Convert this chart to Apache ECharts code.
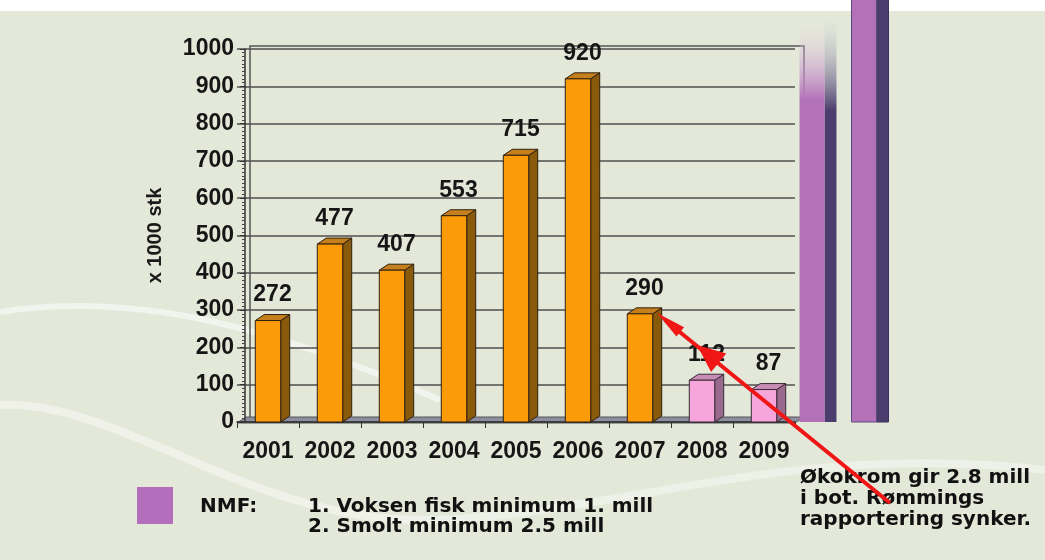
<!DOCTYPE html>
<html>
<head>
<meta charset="utf-8">
<script src="https://cdn.jsdelivr.net/npm/echarts@6/dist/echarts.min.js"></script>
<style>
  html, body { margin: 0; padding: 0; background: #e3e8d8; }
  #chart { width: 1045px; height: 560px; }
</style>
</head>
<body>
<div id="chart"></div>
<script>
// rapporterte rømte fisk, x 1000 stk
var years = ['2001', '2002', '2003', '2004', '2005', '2006', '2007', '2008', '2009'];
var escaped = [272, 477, 407, 553, 715, 920, 290, 112, 87];
var afterOkokrom = ['2008', '2009'];   // rosa søyler

// NMF minimum (x 1000 stk)
var nmfNames = ['Voksen fisk', 'Smolt'];
var nmfMinimum = [1000, 2500];

var yMin = 0, yMax = 1000, yStep = 100;

var nmfLegend = ['1. Voksen fisk minimum 1. mill', '2. Smolt minimum 2.5 mill'];
var noteLines = ['Økokrom gir 2.8 mill', 'i bot. Rømmings', 'rapportering synker.'];

var orangeFaces = { front: '#fb9b08', side: '#8a5a0c', top: '#c57f1c', stroke: '#2e2010' };
var pinkFaces = { front: '#f7a6dc', side: '#9a6a8e', top: '#c98cb6', stroke: '#3a2a35' };
var narrow = '"Liberation Sans Narrow", "Arial Narrow", "Liberation Sans", Arial, sans-serif';
var labelFont = 'bold 23px ' + narrow;
var noteFont = 'bold 20px "DejaVu Sans", Verdana, sans-serif';
var DX = 9, DY = 6;

function yearBox(params, api) {
    var i = api.value(0), v = api.value(1);
    var top = api.coord([i, v]);
    var base = api.coord([i, 0]);
    var w = api.size([1, 0])[0] * 0.41;
    var x0 = top[0] - w / 2, x1 = top[0] + w / 2;
    var c = afterOkokrom.indexOf(years[i]) >= 0 ? pinkFaces : orangeFaces;
    return {
        type: 'group',
        children: [
            { type: 'polygon', shape: { points: [[x1, top[1]], [x1 + DX, top[1] - DY], [x1 + DX, base[1] - DY], [x1, base[1]]] },
              style: { fill: c.side, stroke: c.stroke, lineWidth: 1 } },
            { type: 'polygon', shape: { points: [[x0, top[1]], [x0 + DX, top[1] - DY], [x1 + DX, top[1] - DY], [x1, top[1]]] },
              style: { fill: c.top, stroke: c.stroke, lineWidth: 1 } },
            { type: 'rect', shape: { x: x0, y: top[1], width: w, height: base[1] - top[1] },
              style: { fill: c.front, stroke: c.stroke, lineWidth: 1 } },
            { type: 'text', style: { text: String(v), x: top[0] + DX / 2, y: top[1] - DY - 8,
              align: 'center', verticalAlign: 'bottom', font: labelFont, fill: '#161616' } }
        ]
    };
}

function nmfBox(params, api) {
    var i = api.value(0), v = api.value(1);
    var top = api.coord([i, v]);
    var base = api.coord([i, 0]);
    var w = api.size([1, 0])[0] * 0.48;
    var sw = 12;
    var x0 = top[0] - w / 2, x1 = top[0] + w / 2;
    var front = '#b371b8', side = '#4b3d6d';
    if (i === 0) {
        // øverste del tones ut
        front = new echarts.graphic.LinearGradient(0, 0, 0, 1, [
            { offset: 0, color: 'rgba(230,210,230,0.1)' },
            { offset: 0.18, color: '#b371b8' },
            { offset: 1, color: '#b371b8' }]);
        side = new echarts.graphic.LinearGradient(0, 0, 0, 1, [
            { offset: 0, color: 'rgba(200,200,210,0.1)' },
            { offset: 0.22, color: '#4b3d6d' },
            { offset: 1, color: '#4b3d6d' }]);
    }
    return {
        type: 'group',
        children: [
            { type: 'rect', shape: { x: x1, y: top[1] - DY - 20, width: sw, height: base[1] - top[1] + DY + 20 },
              style: { fill: side, stroke: i === 0 ? null : '#3a2f58', lineWidth: 1 } },
            { type: 'rect', shape: { x: x0, y: top[1] - 20, width: w, height: base[1] - top[1] + 20 },
              style: { fill: front, stroke: i === 0 ? null : '#5b4a80', lineWidth: 1 } }
        ]
    };
}

function arrowHead(tip, from, len, half) {
    var ux = tip[0] - from[0], uy = tip[1] - from[1];
    var d = Math.sqrt(ux * ux + uy * uy);
    ux /= d; uy /= d;
    var bx = tip[0] - ux * len, by = tip[1] - uy * len;
    return [[tip[0], tip[1]], [bx - uy * half, by + ux * half], [bx + uy * half, by - ux * half]];
}

var arrowFrom = [890, 503], arrowTip = [657, 313], arrowMid = [697, 345];

var chart = echarts.init(document.getElementById('chart'));
var option = {
    backgroundColor: '#e3e8d8',
    animation: false,
    grid: [
        { left: 237, right: 250, top: 49, bottom: 138 },
        { left: 786, width: 104, top: 49, bottom: 138 }
    ],
    xAxis: [
        {
            type: 'category', gridIndex: 0, data: years,
            axisLine: { lineStyle: { color: '#333', width: 1.5 } },
            axisTick: { show: true, length: 6, lineStyle: { color: '#333' } },
            axisLabel: { interval: 0, color: '#161616', fontSize: 23, fontWeight: 'bold', fontFamily: narrow, margin: 18 }
        },
        { type: 'category', gridIndex: 1, data: nmfNames, show: false }
    ],
    yAxis: [
        {
            type: 'value', gridIndex: 0, min: yMin, max: yMax, interval: yStep, offset: -8,
            name: 'x 1000 stk', nameLocation: 'middle', nameGap: 80, nameRotate: 90,
            nameTextStyle: { color: '#1a1a1a', fontSize: 20, fontWeight: 'bold', fontFamily: '"Liberation Sans", Arial' },
            axisLine: { show: true, lineStyle: { color: '#333', width: 1.5 } },
            axisTick: { show: true, length: 5, lineStyle: { color: '#333' } },
            minorTick: { show: true, splitNumber: 10, length: 3, lineStyle: { color: '#444' } },
            axisLabel: { color: '#161616', fontSize: 23, fontWeight: 'bold', fontFamily: narrow, margin: 11,
                         formatter: function (v) { return String(v); } },
            splitLine: { lineStyle: { color: '#4f4f4f', width: 1.6 } }
        },
        { type: 'value', gridIndex: 1, min: yMin, max: yMax, show: false, splitLine: { show: false } }
    ],
    series: [
        {
            type: 'custom', name: 'Rømt', xAxisIndex: 0, yAxisIndex: 0, z: 3,
            renderItem: yearBox,
            data: escaped.map(function (v, i) { return [i, v]; })
        },
        {
            type: 'custom', name: 'NMF', xAxisIndex: 1, yAxisIndex: 1, z: 4, clip: false,
            renderItem: nmfBox,
            data: nmfMinimum.map(function (v, i) { return [i, v]; })
        }
    ],
    graphic: [
        { type: 'rect', z: -20, shape: { x: 0, y: 0, width: 1045, height: 11 }, style: { fill: '#ffffff' } },
        { type: 'bezierCurve', z: -20, shape: { x1: 0, y1: 312, cpx1: 140, cpy1: 290, cpx2: 280, cpy2: 330, x2: 440, y2: 400 },
          style: { stroke: 'rgba(255,255,255,0.55)', lineWidth: 6, fill: null } },
        { type: 'bezierCurve', z: -20, shape: { x1: 0, y1: 405, cpx1: 120, cpy1: 400, cpx2: 250, cpy2: 520, x2: 420, y2: 520 },
          style: { stroke: 'rgba(255,255,255,0.45)', lineWidth: 8, fill: null } },
        { type: 'bezierCurve', z: -20, shape: { x1: 420, y1: 520, cpx1: 600, cpy1: 520, cpx2: 780, cpy2: 440, x2: 1045, y2: 470 },
          style: { stroke: 'rgba(255,255,255,0.4)', lineWidth: 8, fill: null } },
        // bakvegg og gulv
        { type: 'polyline', z: -5, shape: { points: [[250, 418], [250, 46], [804, 46], [804, 418]] },
          style: { stroke: '#555', lineWidth: 1.5, fill: null } },
        { type: 'polygon', z: -5, shape: { points: [[237, 423], [246, 417], [804, 417], [795, 423]] },
          style: { fill: '#8d8ea0', stroke: '#555', lineWidth: 1 } },
        // NMF tegnforklaring
        { type: 'rect', shape: { x: 137, y: 487, width: 36, height: 37 }, style: { fill: '#b36fbb' } },
        { type: 'text', style: { text: 'NMF:', x: 200, y: 507, verticalAlign: 'middle', font: noteFont, fill: '#111' } },
        { type: 'text', style: { text: nmfLegend[0], x: 308, y: 507, verticalAlign: 'middle', font: noteFont, fill: '#111' } },
        { type: 'text', style: { text: nmfLegend[1], x: 308, y: 527, verticalAlign: 'middle', font: noteFont, fill: '#111' } },
        // Økokrom-notat
        { type: 'text', z: 50, style: { text: noteLines[0], x: 800, y: 478, verticalAlign: 'middle', font: noteFont, fill: '#111' } },
        { type: 'text', z: 50, style: { text: noteLines[1], x: 800, y: 499, verticalAlign: 'middle', font: noteFont, fill: '#111' } },
        { type: 'text', z: 50, style: { text: noteLines[2], x: 800, y: 520, verticalAlign: 'middle', font: noteFont, fill: '#111' } },
        // røde piler
        { type: 'line', z: 100, shape: { x1: arrowFrom[0], y1: arrowFrom[1], x2: arrowTip[0] + 8, y2: arrowTip[1] + 7 },
          style: { stroke: '#f01616', lineWidth: 4 } },
        { type: 'polygon', z: 100, shape: { points: arrowHead(arrowTip, arrowFrom, 30, 6) }, style: { fill: '#f01616' } },
        { type: 'polygon', z: 100, shape: { points: arrowHead(arrowMid, arrowFrom, 28, 12) }, style: { fill: '#f01616' } }
    ]
};
chart.setOption(option);
</script>
</body>
</html>
